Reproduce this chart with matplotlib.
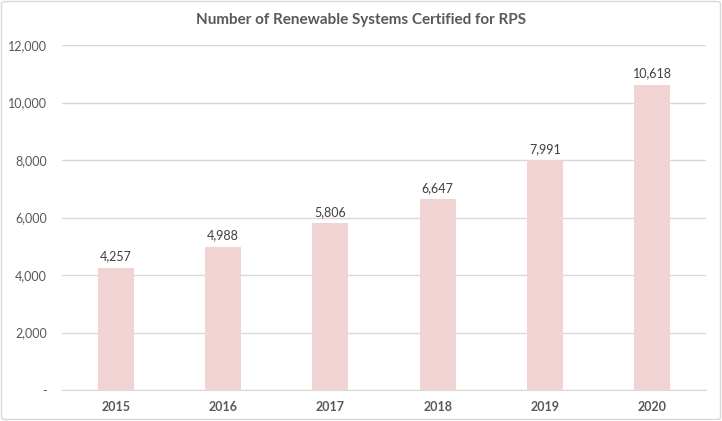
import matplotlib.pyplot as plt
from matplotlib.patches import FancyBboxPatch
from matplotlib.ticker import FuncFormatter

years = ["2015", "2016", "2017", "2018", "2019", "2020"]
systems = [4257, 4988, 5806, 6647, 7991, 10618]
y_ticks = [0, 2000, 4000, 6000, 8000, 10000, 12000]

plt.rcParams["font.family"] = ["Lato", "DejaVu Sans"]
text_color = "#595959"

fig = plt.figure(figsize=(7.22, 4.21), dpi=100)
ax = fig.add_axes([62 / 722, 31 / 421, 644 / 722, 345 / 421])

bars = ax.bar(years, systems, width=0.335, color="#F2D3D3", zorder=2)
for bar, value in zip(bars, systems):
    ax.text(bar.get_x() + bar.get_width() / 2, value + 180, f"{value:,}",
            ha="center", va="bottom", fontsize=9, color="#404040")

ax.set_ylim(0, 12000)
ax.set_xlim(-0.5, len(years) - 0.5)
ax.set_yticks(y_ticks)
ax.yaxis.set_major_formatter(FuncFormatter(lambda v, _: "-" if v == 0 else f"{int(v):,}"))
ax.grid(axis="y", color="#D9D9D9", linewidth=1, zorder=0)
ax.spines[["top", "right", "left"]].set_visible(False)
ax.spines["bottom"].set_color("#D9D9D9")
ax.tick_params(axis="both", length=0, colors=text_color, labelsize=9)
ax.tick_params(axis="y", pad=11)
ax.tick_params(axis="x", pad=8)
for label in ax.get_xticklabels():
    label.set_fontweight("bold")

fig.text(361 / 722, 1 - 20 / 421, "Number of Renewable Systems Certified for RPS",
         ha="center", va="center", fontsize=11, fontweight="bold", color=text_color)

border = FancyBboxPatch((1.5 / 722, 1.5 / 421), 719 / 722, 418 / 421,
                        boxstyle="round,pad=0,rounding_size=0.005",
                        transform=fig.transFigure, fill=False,
                        edgecolor="#D9D9D9", linewidth=1)
fig.patches.append(border)

fig.savefig("out.png", dpi=100)
